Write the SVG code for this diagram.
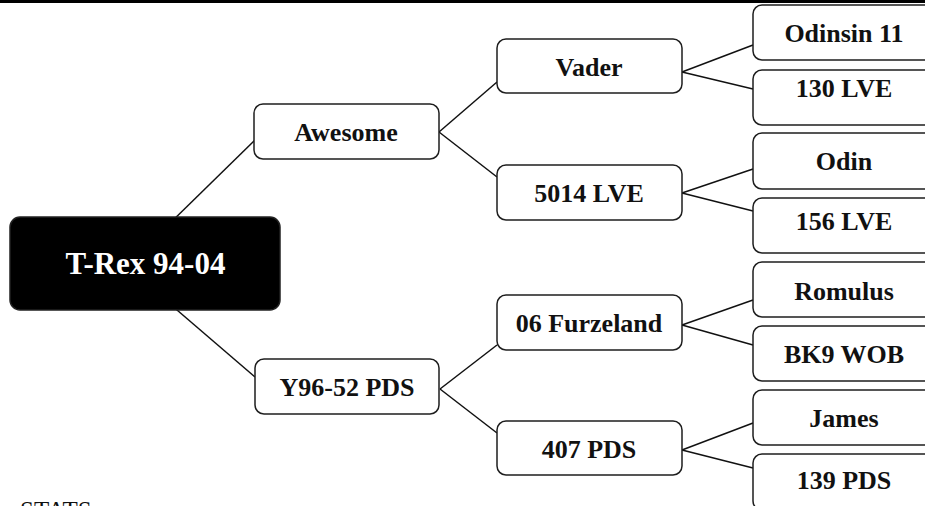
<svg xmlns="http://www.w3.org/2000/svg" width="925" height="506" viewBox="0 0 925 506">
<style>
.box{fill:#fff;stroke:#1e1e1e;stroke-width:1.5}
.lbl{font-family:"Liberation Serif","Times New Roman",serif;font-weight:bold;font-size:26px;fill:#111;text-anchor:middle}
.root{fill:#000;stroke:#222;stroke-width:1.5}
.rootlbl{font-family:"Liberation Serif","Times New Roman",serif;font-weight:bold;font-size:31px;fill:#fff;text-anchor:middle}
.conn line{stroke:#111;stroke-width:1.5}
</style>
<rect x="0" y="0" width="925" height="3" fill="#000"/>
<g id="connectors" class="conn">
<line x1="255" y1="140" x2="163" y2="230"/>
<line x1="255" y1="377" x2="170" y2="304"/>
<line x1="439" y1="132" x2="497" y2="82"/>
<line x1="439" y1="132" x2="497" y2="177"/>
<line x1="440" y1="389" x2="497" y2="345"/>
<line x1="440" y1="389" x2="497" y2="433"/>
<line x1="682" y1="72" x2="753" y2="45"/>
<line x1="682" y1="72" x2="753" y2="89"/>
<line x1="682" y1="193" x2="753" y2="169"/>
<line x1="682" y1="193" x2="753" y2="211"/>
<line x1="682" y1="325" x2="753" y2="300"/>
<line x1="682" y1="325" x2="753" y2="345"/>
<line x1="682" y1="450" x2="753" y2="423"/>
<line x1="682" y1="450" x2="753" y2="468"/>
</g>
<g id="root"><rect class="root" x="10" y="217" width="270" height="93" rx="10"/><text class="rootlbl" x="145.5" y="274">T-Rex 94-04</text></g>
<g id="awesome"><rect class="box" x="254" y="104" width="185" height="55" rx="9"/><text class="lbl" x="346" y="141">Awesome</text></g>
<g id="y96"><rect class="box" x="255" y="359" width="184" height="55" rx="9"/><text class="lbl" x="347" y="396">Y96-52 PDS</text></g>
<g id="vader"><rect class="box" x="497" y="39" width="185" height="54" rx="9"/><text class="lbl" x="589" y="76">Vader</text></g>
<g id="lve5014"><rect class="box" x="497" y="165" width="185" height="55" rx="9"/><text class="lbl" x="589" y="202">5014 LVE</text></g>
<g id="furzeland"><rect class="box" x="497" y="295" width="185" height="55" rx="9"/><text class="lbl" x="589" y="332">06 Furzeland</text></g>
<g id="pds407"><rect class="box" x="497" y="421" width="185" height="54" rx="9"/><text class="lbl" x="589" y="458">407 PDS</text></g>
<g id="odinsin"><rect class="box" x="753" y="5" width="185" height="55" rx="9"/><text class="lbl" x="844" y="42">Odinsin 11</text></g>
<g id="lve130"><rect class="box" x="753" y="70" width="185" height="55" rx="9"/><text class="lbl" x="844" y="97">130 LVE</text></g>
<g id="odin"><rect class="box" x="753" y="133" width="185" height="56" rx="9"/><text class="lbl" x="844" y="170">Odin</text></g>
<g id="lve156"><rect class="box" x="753" y="198" width="185" height="55" rx="9"/><text class="lbl" x="844" y="230">156 LVE</text></g>
<g id="romulus"><rect class="box" x="753" y="262" width="185" height="55" rx="9"/><text class="lbl" x="844" y="300">Romulus</text></g>
<g id="bk9"><rect class="box" x="753" y="326" width="185" height="55" rx="9"/><text class="lbl" x="844" y="363">BK9 WOB</text></g>
<g id="james"><rect class="box" x="753" y="390" width="185" height="55" rx="9"/><text class="lbl" x="844" y="427">James</text></g>
<g id="pds139"><rect class="box" x="753" y="454" width="185" height="56" rx="9"/><text class="lbl" x="844" y="489">139 PDS</text></g>
<text x="20" y="519" font-family="Liberation Serif, Times New Roman, serif" font-size="25" fill="#111">STATS</text>
</svg>
